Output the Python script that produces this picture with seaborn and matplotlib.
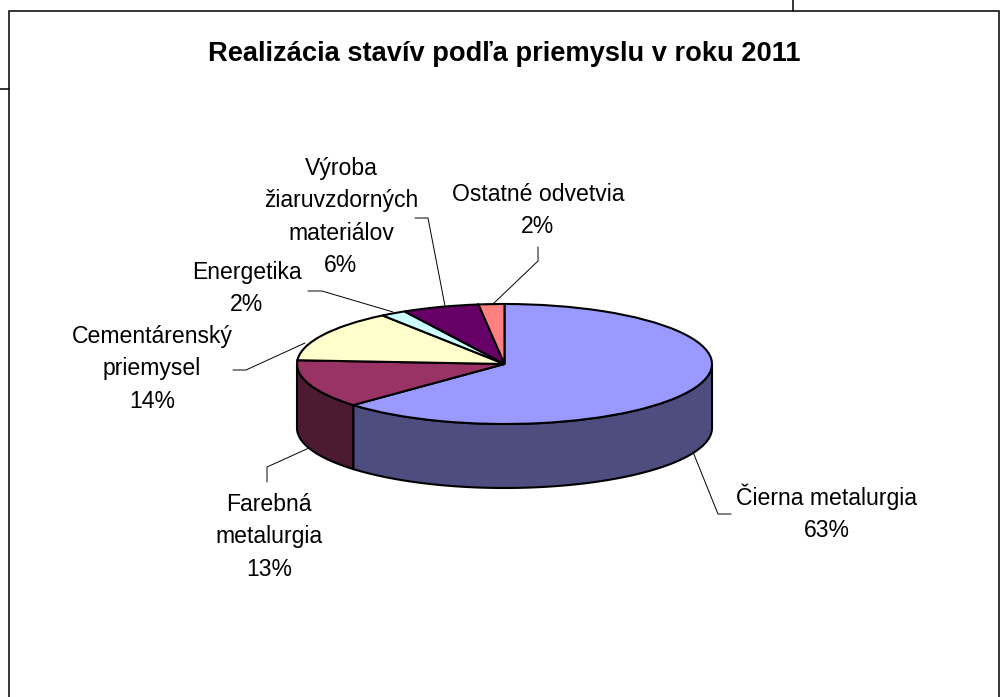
import numpy as np
import matplotlib
matplotlib.use("Agg")
import matplotlib.pyplot as plt
import seaborn as sns

W, H = 1003, 697

TITLE = "Realizácia stavív podľa priemyslu v roku 2011"
names = ["Čierna metalurgia", "Farebná\nmetalurgia", "Cementárenský\npriemysel",
         "Energetika", "Výroba\nžiaruvzdorných\nmateriálov", "Ostatné odvetvia"]
values = [63, 13, 14, 2, 6, 2]
colors = ["#9999FF", "#993366", "#FFFFCC", "#CCFFFF", "#660066", "#FF8080"]

# label centre x and first baseline, leader lines, all in pixels
label_xy = [(827, 505), (269, 511), (152, 343), (247, 279), (341, 175), (538, 201)]
line_pitch = 32.3
leaders = [
    [(693, 452), (718, 514), (731, 514)],
    [(309, 448), (267, 467), (267, 482)],
    [(305, 343), (246, 370), (233, 370)],
    [(308, 291), (322, 291), (393, 312)],
    [(415, 218), (428, 218), (445, 306)],
    [(538, 247), (538, 261), (493, 304)],
]

sns.set_theme(style="white")
plt.rcParams["font.family"] = ["Liberation Sans", "DejaVu Sans"]
palette = sns.color_palette(colors)


def px_rect(x0, y0, x1, y1):
    return [x0 / W, 1 - y1 / H, (x1 - x0) / W, (y1 - y0) / H]


fig = plt.figure(figsize=(W / 100, H / 100), dpi=100, facecolor="white")

# pie top lives in a squashed box, so the circle becomes an ellipse
ax = fig.add_axes(px_rect(297, 304, 712, 424))
edge = dict(edgecolor="black", linewidth=1.5)
ax.pie(values, colors=palette, startangle=90, counterclock=False, radius=1,
       center=(0, 0), wedgeprops=edge, frame=False)
ax.set_aspect("auto")
ax.set_xlim(-1, 1)
ax.set_ylim(-1, 1)
ax.axis("off")

# side wall of the front slices
depth = 64 / 60
bounds = 90 - 3.6 * np.cumsum([0] + values)
for i, col in enumerate(palette):
    a0, a1 = bounds[i], bounds[i + 1]
    lo, hi = max(a0, a1), min(a0, a1)
    hi_front = min(lo, 0)
    lo_front = max(hi, -180)
    if hi_front <= lo_front:
        continue
    t = np.radians(np.linspace(hi_front, lo_front, 80))
    xs = np.cos(t)
    ys = np.sin(t)
    px = np.r_[xs, xs[::-1]]
    py = np.r_[ys, ys[::-1] - depth]
    dark = tuple(c * 0.5 for c in col)
    ax.fill(px, py, facecolor=dark, clip_on=False, zorder=0.5, **edge)

# overlay in pixel coordinates: frame, title, labels, leaders
ov = fig.add_axes([0, 0, 1, 1])
ov.set_xlim(0, W)
ov.set_ylim(H, 0)
ov.axis("off")
ov.patch.set_alpha(0)

frame_lines = [
    [(9.5, H), (9.5, 10.5), (999.5, 10.5), (999.5, H)],
    [(0, 89), (9.5, 89)],
    [(793.5, 0), (793.5, 10.5)],
]
for seg in frame_lines:
    ov.plot(*zip(*seg), color="black", lw=1.1, solid_joinstyle="miter")

ov.text(504, 54, TITLE, ha="center", va="center", fontsize=19.6, fontweight="bold", color="black")

for name, val, (x, y), seg in zip(names, values, label_xy, leaders):
    rows = name.split("\n") + [f"{val}%"]
    for k, row in enumerate(rows):
        ov.text(x, y + k * line_pitch, row, ha="center", va="baseline", fontsize=16.6, color="black")
    ov.plot(*zip(*seg), color="black", lw=0.7)

fig.savefig("out.png", dpi=100)
